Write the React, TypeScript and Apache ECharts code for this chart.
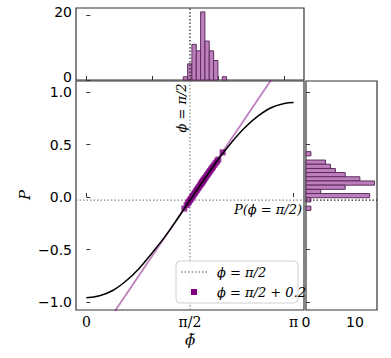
import React, { useEffect, useRef } from "react";
import * as echarts from "echarts";

// ---- data ----
const X_MIN = -0.157;
const X_MAX = 3.299;
const Y_MIN = -1.076;
const Y_MAX = 1.105;
const PHI_HALF = 1.5708;
const P_HALF = -0.03;

const xTickValues = [0, 1.5708, 3.1416];
const xTickLabels = ["0", "π/2", "π"];
const yTickValues = [-1, -0.5, 0, 0.5, 1];

const curvePhi = [0, 0.2, 0.4, 0.6, 0.8, 1.0, 1.2, 1.4, 1.5708, 1.8, 2.0, 2.2, 2.4, 2.6, 2.8, 3.0, 3.1416];
const curveP = [-0.96, -0.94, -0.89, -0.8, -0.68, -0.53, -0.37, -0.19, -0.03, 0.18, 0.36, 0.52, 0.66, 0.77, 0.85, 0.89, 0.9];

const tangentPhi = [0.3, 3.0];
const tangentP = [-1.21, 1.3];

const pointPhi = [1.485, 1.52, 1.54, 1.555, 1.57, 1.585, 1.6, 1.615, 1.63, 1.645, 1.66, 1.675, 1.69, 1.705, 1.72, 1.735, 1.745, 1.755, 1.765, 1.775, 1.785, 1.8, 1.815, 1.83, 1.845, 1.86, 1.875, 1.89, 1.905, 1.92, 1.94, 1.96, 1.98, 2.0, 2.065];
const pointP = [-0.11, -0.077, -0.059, -0.045, -0.031, -0.017, -0.003, 0.011, 0.025, 0.039, 0.053, 0.067, 0.081, 0.094, 0.108, 0.122, 0.131, 0.14, 0.15, 0.159, 0.168, 0.181, 0.195, 0.208, 0.222, 0.235, 0.249, 0.262, 0.275, 0.288, 0.306, 0.323, 0.34, 0.357, 0.425];

const phiBinEdges = [1.469, 1.535, 1.6, 1.666, 1.732, 1.797, 1.863, 1.929, 1.994, 2.06, 2.126];
const phiCounts = [1, 5, 11, 9, 21, 12, 9, 6, 0, 1];

const pBinEdges = [0.432, 0.392, 0.352, 0.312, 0.272, 0.233, 0.193, 0.153, 0.113, 0.073, 0.033, -0.007, -0.047, -0.087, -0.127];
const pCounts = [1, 0, 4, 5, 6, 8, 11, 14, 8, 3, 13, 1, 0, 1];

const TOP_Y_MAX = 22.2;
const RIGHT_X_MAX = 14.5;

const HIST_FILL = "#BF7FBF";
const HIST_EDGE = "#5a2d5a";
const AX = "#333";

export default function App() {
  const ref = useRef<HTMLDivElement>(null);
  useEffect(() => {
    if (!ref.current) return;
    const chart = echarts.init(ref.current, undefined, { renderer: "svg" });

    const topHist = phiCounts.map((c, i) => [phiBinEdges[i], phiBinEdges[i + 1], c]);
    const rightHist = pCounts.map((c, i) => [pBinEdges[i + 1], pBinEdges[i], c]);

    const tickFont = { fontFamily: "DejaVu Sans", fontSize: 14, color: "#000" };
    const frame = { show: true, borderColor: AX, borderWidth: 1.2, backgroundColor: "transparent" };

    const option: any = {
      animation: false,
      backgroundColor: "#fff",
      grid: [
        { left: 76, top: 8, width: 228, height: 72, ...frame },
        { left: 76, top: 81, width: 228, height: 229, ...frame },
        { left: 306, top: 81, width: 71, height: 229, ...frame },
      ],
      xAxis: [
        {
          gridIndex: 0, type: "value", min: X_MIN, max: X_MAX,
          axisLine: { show: false }, splitLine: { show: false },
          axisLabel: { show: false },
          axisTick: { show: true, inside: true, length: 4, customValues: [0, 1, 2, 3], lineStyle: { color: AX } },
        },
        {
          gridIndex: 1, type: "value", min: X_MIN, max: X_MAX,
          axisLine: { show: false }, splitLine: { show: false },
          axisTick: { show: true, inside: true, length: 4, customValues: xTickValues, lineStyle: { color: AX } },
          axisLabel: {
            customValues: xTickValues,
            formatter: (v: number) => {
              let best = 0;
              xTickValues.forEach((t, i) => { if (Math.abs(t - v) < Math.abs(xTickValues[best] - v)) best = i; });
              return xTickLabels[best];
            },
            fontFamily: "DejaVu Serif", fontSize: 14, color: "#000", margin: 5,
          },
        },
        {
          gridIndex: 2, type: "value", min: 0, max: RIGHT_X_MAX,
          axisLine: { show: false }, splitLine: { show: false },
          axisTick: { show: true, inside: true, length: 4, customValues: [0, 10], lineStyle: { color: AX } },
          axisLabel: { customValues: [0, 10], ...tickFont, margin: 5 },
        },
      ],
      yAxis: [
        {
          gridIndex: 0, type: "value", min: 0, max: TOP_Y_MAX,
          axisLine: { show: false }, splitLine: { show: false },
          axisTick: { show: true, inside: true, length: 4, customValues: [0, 20], lineStyle: { color: AX } },
          axisLabel: { customValues: [0, 20], ...tickFont, margin: 4, verticalAlign: "bottom", lineHeight: 14, padding: [0, 0, -4, 0] },
        },
        {
          gridIndex: 1, type: "value", min: Y_MIN, max: Y_MAX,
          axisLine: { show: false }, splitLine: { show: false },
          axisTick: { show: true, inside: true, length: 4, customValues: yTickValues, lineStyle: { color: AX } },
          axisLabel: {
            customValues: yTickValues,
            formatter: (v: number) => (v < 0 ? "−" : "") + Math.abs(v).toFixed(1),
            ...tickFont, margin: 4,
          },
        },
        {
          gridIndex: 2, type: "value", min: Y_MIN, max: Y_MAX,
          axisLine: { show: false }, splitLine: { show: false },
          axisTick: { show: true, inside: true, length: 4, customValues: yTickValues, lineStyle: { color: AX } },
          axisLabel: { show: false },
        },
      ],
      series: [
        {
          type: "custom", xAxisIndex: 0, yAxisIndex: 0, data: topHist,
          encode: { x: [0, 1], y: 2 },
          renderItem: (params: any, api: any) => {
            const c = api.value(2);
            if (!c) return null;
            const p0 = api.coord([api.value(0), 0]);
            const p1 = api.coord([api.value(1), c]);
            return {
              type: "rect",
              shape: { x: p0[0], y: p1[1], width: p1[0] - p0[0], height: p0[1] - p1[1] },
              style: { fill: HIST_FILL, stroke: HIST_EDGE, lineWidth: 1 },
            };
          },
        },
        {
          type: "line", xAxisIndex: 0, yAxisIndex: 0, symbol: "none", z: 5,
          data: [[PHI_HALF, 0], [PHI_HALF, TOP_Y_MAX]],
          lineStyle: { color: "#222", width: 1.2, type: [1.5, 2] },
        },
        {
          type: "line", xAxisIndex: 1, yAxisIndex: 1, symbol: "none", z: 1,
          data: [[PHI_HALF, Y_MIN], [PHI_HALF, Y_MAX]],
          lineStyle: { color: "#888", width: 1.2, type: [1.5, 2] },
        },
        {
          type: "line", xAxisIndex: 1, yAxisIndex: 1, symbol: "none", z: 1,
          data: [[X_MIN, P_HALF], [X_MAX, P_HALF]],
          lineStyle: { color: "#888", width: 1.2, type: [1.5, 2] },
        },
        {
          type: "line", xAxisIndex: 1, yAxisIndex: 1, symbol: "none", z: 2,
          data: tangentPhi.map((x, i) => [x, tangentP[i]]),
          lineStyle: { color: "rgba(128,0,128,0.5)", width: 1.8 },
        },
        {
          type: "scatter", xAxisIndex: 1, yAxisIndex: 1, z: 3,
          symbol: "rect", symbolSize: 6,
          itemStyle: { color: "#800080" },
          data: pointPhi.map((x, i) => [x, pointP[i]]),
        },
        {
          type: "line", xAxisIndex: 1, yAxisIndex: 1, symbol: "none", z: 4, smooth: 0.4,
          data: curvePhi.map((x, i) => [x, curveP[i]]),
          lineStyle: { color: "#000", width: 1.5 },
        },
        {
          type: "custom", xAxisIndex: 2, yAxisIndex: 2, data: rightHist,
          encode: { y: [0, 1], x: 2 },
          renderItem: (params: any, api: any) => {
            const c = api.value(2);
            if (!c) return null;
            const p0 = api.coord([0, api.value(0)]);
            const p1 = api.coord([c, api.value(1)]);
            return {
              type: "rect",
              shape: { x: p0[0], y: Math.min(p0[1], p1[1]), width: p1[0] - p0[0], height: Math.abs(p0[1] - p1[1]) },
              style: { fill: HIST_FILL, stroke: HIST_EDGE, lineWidth: 1 },
            };
          },
        },
        {
          type: "line", xAxisIndex: 2, yAxisIndex: 2, symbol: "none", z: 5,
          data: [[0, P_HALF], [RIGHT_X_MAX, P_HALF]],
          lineStyle: { color: "#222", width: 1.2, type: [1.5, 2] },
        },
      ],
      graphic: [
        {
          type: "text", x: 181, y: 108, rotation: Math.PI / 2, z: 10,
          style: { text: "ϕ = π/2", font: "italic 13px 'DejaVu Serif'", fill: "#000", textAlign: "center", textVerticalAlign: "middle" },
        },
        {
          type: "text", x: 302, y: 209.5, z: 10,
          style: { text: "P(ϕ = π/2)", font: "italic 13px 'DejaVu Serif'", fill: "#000", textAlign: "right", textVerticalAlign: "middle" },
        },
        {
          type: "text", x: 25, y: 195, rotation: Math.PI / 2, z: 10,
          style: { text: "P", font: "italic 15px 'DejaVu Serif'", fill: "#000", textAlign: "center", textVerticalAlign: "middle" },
        },
        {
          type: "text", x: 190, y: 340, z: 10,
          style: { text: "ϕ̃", font: "italic 15px 'DejaVu Serif'", fill: "#000", textAlign: "center", textVerticalAlign: "middle" },
        },
        {
          type: "rect", z: 20,
          shape: { x: 176, y: 261, width: 122, height: 42, r: 4 },
          style: { fill: "rgba(255,255,255,0.85)", stroke: "#d0d0d0", lineWidth: 1 },
        },
        {
          type: "line", z: 21,
          shape: { x1: 181, y1: 272, x2: 207, y2: 272 },
          style: { stroke: "#555", lineWidth: 1.2, lineDash: [1.5, 2] },
        },
        {
          type: "text", x: 217, y: 272, z: 21,
          style: { text: "ϕ = π/2", font: "italic 13px 'DejaVu Serif'", fill: "#000", textAlign: "left", textVerticalAlign: "middle" },
        },
        {
          type: "rect", z: 21,
          shape: { x: 191, y: 289, width: 6, height: 6 },
          style: { fill: "#800080" },
        },
        {
          type: "text", x: 217, y: 292, z: 21,
          style: { text: "ϕ = π/2 + 0.2", font: "italic 13px 'DejaVu Serif'", fill: "#000", textAlign: "left", textVerticalAlign: "middle" },
        },
      ],
    };

    chart.setOption(option);
    return () => chart.dispose();
  }, []);

  return (
    <div
      ref={ref}
      style={{ position: "absolute", left: 0, top: 0, width: 391, height: 358 }}
    />
  );
}
